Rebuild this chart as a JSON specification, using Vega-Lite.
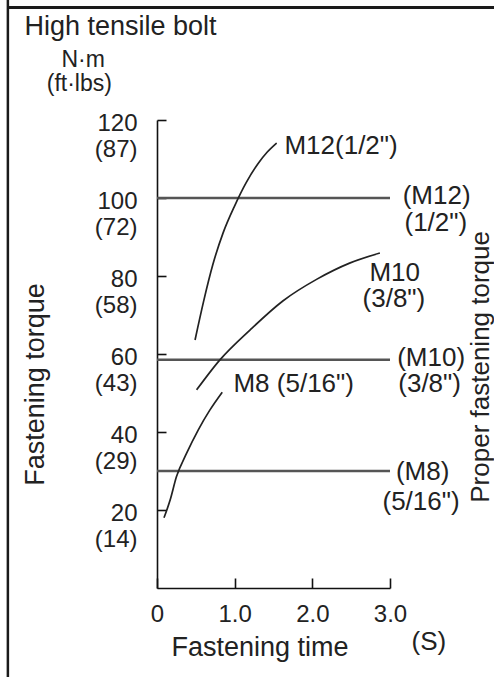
{
  "$schema": "https://vega.github.io/schema/vega-lite/v6.json",
  "width": 233,
  "height": 468,
  "autosize": {"type": "none"},
  "padding": {"left": 157, "top": 120, "right": 104, "bottom": 89},
  "background": "white",
  "config": {
    "view": {"stroke": null},
    "font": "Liberation Sans",
    "text": {"font": "Liberation Sans"}
  },
  "datasets": {
    "curves": [
      {"bolt": "M8", "t": 0.09, "torque": 18.0},
      {"bolt": "M8", "t": 0.17, "torque": 22.6},
      {"bolt": "M8", "t": 0.25, "torque": 28.5},
      {"bolt": "M8", "t": 0.38, "torque": 34.5},
      {"bolt": "M8", "t": 0.53, "torque": 40.5},
      {"bolt": "M8", "t": 0.68, "torque": 45.6},
      {"bolt": "M8", "t": 0.84, "torque": 50.2},
      {"bolt": "M10", "t": 0.51, "torque": 50.8},
      {"bolt": "M10", "t": 0.81, "torque": 58.5},
      {"bolt": "M10", "t": 1.2, "torque": 66.2},
      {"bolt": "M10", "t": 1.62, "torque": 73.6},
      {"bolt": "M10", "t": 2.06, "torque": 79.2},
      {"bolt": "M10", "t": 2.48, "torque": 83.3},
      {"bolt": "M10", "t": 2.87, "torque": 85.9},
      {"bolt": "M12", "t": 0.49, "torque": 63.6},
      {"bolt": "M12", "t": 0.6, "torque": 73.5},
      {"bolt": "M12", "t": 0.72, "torque": 83.0},
      {"bolt": "M12", "t": 0.85, "torque": 91.0},
      {"bolt": "M12", "t": 1.0, "torque": 98.0},
      {"bolt": "M12", "t": 1.15, "torque": 104.0},
      {"bolt": "M12", "t": 1.3, "torque": 108.8},
      {"bolt": "M12", "t": 1.42, "torque": 111.8},
      {"bolt": "M12", "t": 1.54, "torque": 114.1}
    ],
    "proper": [
      {"bolt": "M12", "torque": 100, "t0": 0, "t1": 3},
      {"bolt": "M10", "torque": 58.5, "t0": 0, "t1": 3},
      {"bolt": "M8", "torque": 30, "t0": 0, "t1": 3}
    ],
    "labels": [
      {"label": "M12(1/2\")", "t": 2.37, "torque": 113.3},
      {"label": "M10", "t": 3.06, "torque": 80.8},
      {"label": "(3/8\")", "t": 3.05, "torque": 74.0},
      {"label": "M8 (5/16\")", "t": 1.76, "torque": 52.3},
      {"label": "(M12)", "t": 3.6, "torque": 100.4},
      {"label": "(1/2\")", "t": 3.59, "torque": 93.5},
      {"label": "(M10)", "t": 3.53, "torque": 59.1},
      {"label": "(3/8\")", "t": 3.51, "torque": 52.2},
      {"label": "(M8)", "t": 3.42, "torque": 29.7},
      {"label": "(5/16\")", "t": 3.4, "torque": 22.1},
      {"label": "(S)", "t": 3.5, "torque": -13.8}
    ],
    "units": [
      {"label": "N·m", "t": -0.95, "torque": 135.4},
      {"label": "(ft·lbs)", "t": -1.0, "torque": 129.2}
    ],
    "heading": [
      {"label": "High tensile bolt", "t": -0.47, "torque": 143.8}
    ],
    "sidetitle": [
      {"label": "Proper fastening torque", "t": 4.17, "torque": 56.7}
    ]
  },
  "layer": [
    {
      "data": {"name": "proper"},
      "mark": {"type": "rule", "color": "#555555", "strokeWidth": 2.5},
      "encoding": {
        "x": {
          "field": "t0", "type": "quantitative",
          "scale": {"domain": [0, 3], "nice": false, "zero": false},
          "axis": {
            "values": [0, 1, 2, 3],
            "labelExpr": "datum.value == 0 ? '0' : format(datum.value, '.1f')",
            "grid": false,
            "domainColor": "#111111", "domainWidth": 1.6,
            "tickColor": "#111111", "tickWidth": 1.6, "tickSize": -10,
            "labelFontSize": 24, "labelColor": "#222222", "labelPadding": 24,
            "labelFlush": false, "labelOverlap": false,
            "title": "Fastening time", "titleFontSize": 27, "titleFontWeight": "normal",
            "titleColor": "#222222", "titleX": 102.5, "titleY": 59,
            "titleAlign": "center", "titleBaseline": "middle"
          }
        },
        "x2": {"field": "t1"},
        "y": {
          "field": "torque", "type": "quantitative",
          "scale": {"domain": [0, 120], "nice": false, "zero": true},
          "axis": {
            "values": [20, 40, 60, 80, 100, 120],
            "labelExpr": "datum.value == 120 ? ['120','(87)'] : datum.value == 100 ? ['100','(72)'] : datum.value == 80 ? ['80','(58)'] : datum.value == 60 ? ['60','(43)'] : datum.value == 40 ? ['40','(29)'] : ['20','(14)']",
            "grid": false,
            "domainColor": "#111111", "domainWidth": 1.6,
            "tickColor": "#111111", "tickWidth": 1.6, "tickSize": -9,
            "labelFontSize": 24, "labelColor": "#222222", "labelPadding": 29,
            "labelAlign": "right", "labelBaseline": "middle", "labelLineHeight": 26,
            "labelOffset": 3, "labelFlush": false, "labelOverlap": false,
            "title": "Fastening torque", "titleFontSize": 27, "titleFontWeight": "normal",
            "titleColor": "#222222", "titleAngle": 270, "titleX": -122, "titleY": 264,
            "titleAlign": "center", "titleBaseline": "middle"
          }
        }
      }
    },
    {
      "data": {"name": "curves"},
      "mark": {"type": "line", "color": "#222222", "strokeWidth": 1.7, "interpolate": "monotone"},
      "encoding": {
        "x": {"field": "t", "type": "quantitative"},
        "y": {"field": "torque", "type": "quantitative"},
        "detail": {"field": "bolt"}
      }
    },
    {
      "data": {"name": "labels"},
      "mark": {"type": "text", "fontSize": 26, "color": "#222222", "align": "center", "baseline": "middle"},
      "encoding": {
        "x": {"field": "t", "type": "quantitative"},
        "y": {"field": "torque", "type": "quantitative"},
        "text": {"field": "label"}
      }
    },
    {
      "data": {"name": "units"},
      "mark": {"type": "text", "fontSize": 23, "color": "#222222", "align": "center", "baseline": "middle"},
      "encoding": {
        "x": {"field": "t", "type": "quantitative"},
        "y": {"field": "torque", "type": "quantitative"},
        "text": {"field": "label"}
      }
    },
    {
      "data": {"name": "heading"},
      "mark": {"type": "text", "fontSize": 27, "color": "#222222", "align": "center", "baseline": "middle"},
      "encoding": {
        "x": {"field": "t", "type": "quantitative"},
        "y": {"field": "torque", "type": "quantitative"},
        "text": {"field": "label"}
      }
    },
    {
      "data": {"name": "sidetitle"},
      "mark": {"type": "text", "fontSize": 26, "color": "#222222", "align": "center", "baseline": "middle", "angle": 270},
      "encoding": {
        "x": {"field": "t", "type": "quantitative"},
        "y": {"field": "torque", "type": "quantitative"},
        "text": {"field": "label"}
      }
    },
    {
      "data": {"values": [{}]},
      "mark": {"type": "rule", "color": "#1a1a1a", "strokeWidth": 2.5},
      "encoding": {
        "x": {"datum": -1.92, "type": "quantitative"},
        "y": {"datum": -23, "type": "quantitative"},
        "y2": {"datum": 151}
      }
    },
    {
      "data": {"values": [{}]},
      "mark": {"type": "rule", "color": "#1a1a1a", "strokeWidth": 3},
      "encoding": {
        "x": {"datum": -1.92, "type": "quantitative"},
        "x2": {"datum": 4.34},
        "y": {"datum": 148.85, "type": "quantitative"}
      }
    }
  ]
}
